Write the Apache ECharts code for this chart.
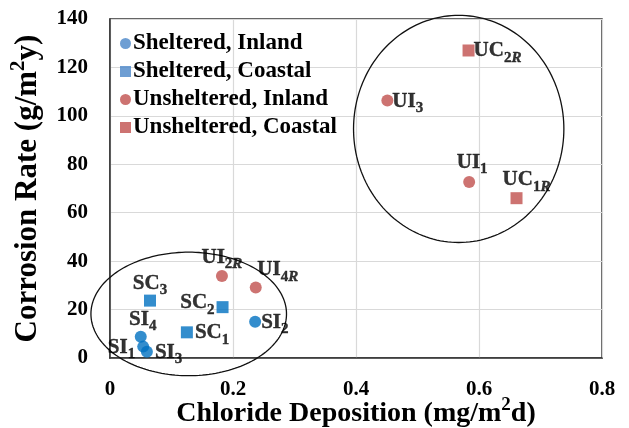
<!DOCTYPE html>
<html>
<head>
<meta charset="utf-8">
<script src="https://cdn.jsdelivr.net/npm/echarts@6/dist/echarts.min.js"></script>
<style>html,body{margin:0;padding:0;background:#fff}#c{width:629px;height:428px}</style>
</head>
<body>
<div id="c"></div>
<script>
// ---- data ----
const seriesNames = ['Sheltered, Inland', 'Sheltered, Coastal', 'Unsheltered, Inland', 'Unsheltered, Coastal'];
const siNames = ['SI1', 'SI2', 'SI3', 'SI4'];
const siX = [0.054, 0.236, 0.060, 0.050];
const siY = [4.7, 15.0, 2.6, 8.8];
const scNames = ['SC1', 'SC2', 'SC3'];
const scX = [0.125, 0.183, 0.065];
const scY = [10.6, 21.0, 23.7];
const uiNames = ['UI1', 'UI2R', 'UI3', 'UI4R'];
const uiX = [0.584, 0.182, 0.451, 0.237];
const uiY = [72.7, 33.9, 106.3, 29.1];
const ucNames = ['UC1R', 'UC2R'];
const ucX = [0.661, 0.583];
const ucY = [66.0, 127.0];
// ellipses: centre x, centre y, radius x, radius y (data units)
const ellipseCX = [0.128, 0.567];
const ellipseCY = [18.2, 94.6];
const ellipseRX = [0.159, 0.171];
const ellipseRY = [25.5, 46.9];
const xTicks = [0, 0.2, 0.4, 0.6, 0.8];
const yTicks = [0, 20, 40, 60, 80, 100, 120, 140];

// ---- styles ----
const FONT = '"Liberation Serif", "Times New Roman", serif';
const INK = '#000';
const labelPlacement = {
  SI1: {position: 'left', offset: [0, 2]},
  SI2: {position: 'right', offset: [-2, 2]},
  SI3: {position: 'right', offset: [0, 2]},
  SI4: {position: 'top', offset: [2, 4]},
  SC1: {position: 'right', offset: [0, 2]},
  SC2: {position: 'left', offset: [0, -3]},
  SC3: {position: 'top', offset: [0, 4]},
  UI1: {position: 'top', offset: [3, 2]},
  UI2R: {position: 'top', offset: [0, 3]},
  UI3: {position: 'right', offset: [-3, 2]},
  UI4R: {position: 'top', offset: [22, 4]},
  UC1R: {position: 'top', offset: [10, 3]},
  UC2R: {position: 'right', offset: [-3, 2]}
};
const tb = {textBorderColor: INK, textBorderWidth: 0.4};
const rich = {
  m: Object.assign({fontFamily: FONT, fontWeight: 'bold', fontSize: 21, color: INK, verticalAlign: 'top', lineHeight: 24}, tb),
  s: Object.assign({fontFamily: FONT, fontWeight: 'bold', fontSize: 15, color: INK, verticalAlign: 'top', lineHeight: 15, padding: [10, 0, 0, 0]}, tb),
  si: Object.assign({fontFamily: FONT, fontWeight: 'bold', fontStyle: 'italic', fontSize: 15, color: INK, verticalAlign: 'top', lineHeight: 15, padding: [10, 0, 0, 0]}, tb)
};
function fmtName(n) {
  const m = n.match(/^([A-Z]+?)(\d)(R?)$/);
  if (!m) return n;
  return '{m|' + m[1] + '}{s|' + m[2] + '}' + (m[3] ? '{si|R}' : '');
}
function build(names, xs, ys) {
  return names.map((n, i) => {
    const p = labelPlacement[n];
    return {
      name: n,
      value: [xs[i], ys[i]],
      label: {show: true, position: p.position, offset: p.offset, distance: 2, color: INK,
        formatter: fmtName(n), rich: rich}
    };
  });
}
const BLUE = '#0070C0', RED = '#C0504D';
const titleRich = (size) => ({
  a: {fontFamily: FONT, fontWeight: 'bold', fontSize: size, color: INK, verticalAlign: 'bottom', lineHeight: size + 4},
  p: {fontFamily: FONT, fontWeight: 'bold', fontSize: Math.round(size * 0.68), color: INK, verticalAlign: 'top', lineHeight: Math.round(size * 0.68)}
});

const chart = echarts.init(document.getElementById('c'), null, {renderer: 'canvas'});
chart.setOption({
  animation: false,
  backgroundColor: '#fff',
  grid: {left: 110, right: 27, top: 19, bottom: 70, show: true, borderColor: '#333', borderWidth: 1.5,
    backgroundColor: 'transparent', containLabel: false, outerBoundsMode: 'none'},
  legend: {
    orient: 'vertical', left: 115, top: 27, itemGap: 5, itemWidth: 11, itemHeight: 11,
    textStyle: {fontFamily: FONT, fontWeight: 'bold', fontSize: 23, color: INK, padding: [0, 0, 0, -3]},
    data: [
      {name: seriesNames[0], icon: 'circle', itemStyle: {color: '#4A86C8'}},
      {name: seriesNames[1], icon: 'rect', itemStyle: {color: '#4A86C8'}},
      {name: seriesNames[2], icon: 'circle', itemStyle: {color: RED}},
      {name: seriesNames[3], icon: 'rect', itemStyle: {color: RED}}
    ]
  },
  xAxis: {
    type: 'value', min: xTicks[0], max: xTicks[xTicks.length - 1], interval: 0.2,
    name: '{a|Chloride Deposition (mg/m}{p|2}{a|d)}', nameLocation: 'middle', nameGap: 38, nameMoveOverlap: false,
    nameTextStyle: {fontFamily: FONT, fontWeight: 'bold', fontSize: 28, color: INK, rich: titleRich(28)},
    axisLine: {show: true, lineStyle: {color: '#333', width: 1.5}},
    axisTick: {show: false},
    axisLabel: {fontFamily: FONT, fontWeight: 'bold', fontSize: 21, color: INK, margin: 21,
      formatter: v => (v === 0 ? '0' : String(+v.toFixed(1)))},
    splitLine: {show: true, lineStyle: {color: '#D9D9D9', width: 1.2}}
  },
  yAxis: {
    type: 'value', min: yTicks[0], max: yTicks[yTicks.length - 1], interval: 20,
    name: '{a|Corrosion Rate (g/m}{p|2}{a|y)}', nameLocation: 'middle', nameGap: 67, nameRotate: 90, nameMoveOverlap: false,
    nameTextStyle: {fontFamily: FONT, fontWeight: 'bold', fontSize: 31, color: INK, rich: titleRich(31)},
    axisLine: {show: true, lineStyle: {color: '#333', width: 1.5}},
    axisTick: {show: false},
    axisLabel: {fontFamily: FONT, fontWeight: 'bold', fontSize: 21, color: INK, margin: 22},
    splitLine: {show: true, lineStyle: {color: '#D9D9D9', width: 1.2}}
  },
  series: [
    {
      type: 'custom', name: 'ellipses', silent: true, clip: false, z: 1,
      data: ellipseCX.map((cx, i) => [cx, ellipseCY[i], ellipseRX[i], ellipseRY[i]]),
      renderItem: function (params, api) {
        const c = api.coord([api.value(0), api.value(1)]);
        const sz = api.size([api.value(2), api.value(3)]);
        const pts = [];
        for (let k = 0; k <= 180; k++) {
          const t = k / 180 * Math.PI * 2;
          pts.push([c[0] + sz[0] * Math.cos(t), c[1] + sz[1] * Math.sin(t)]);
        }
        return {type: 'polyline', shape: {points: pts}, style: {stroke: '#111', lineWidth: 1.3, fill: null}};
      }
    },
    {type: 'scatter', name: seriesNames[0], symbol: 'circle', symbolSize: 12, itemStyle: {color: BLUE}, z: 3, data: build(siNames, siX, siY)},
    {type: 'scatter', name: seriesNames[1], symbol: 'rect', symbolSize: 12, itemStyle: {color: BLUE}, z: 3, data: build(scNames, scX, scY)},
    {type: 'scatter', name: seriesNames[2], symbol: 'circle', symbolSize: 12, itemStyle: {color: RED}, z: 3, data: build(uiNames, uiX, uiY)},
    {type: 'scatter', name: seriesNames[3], symbol: 'rect', symbolSize: 12, itemStyle: {color: RED}, z: 3, data: build(ucNames, ucX, ucY)}
  ]
});
</script>
</body>
</html>
